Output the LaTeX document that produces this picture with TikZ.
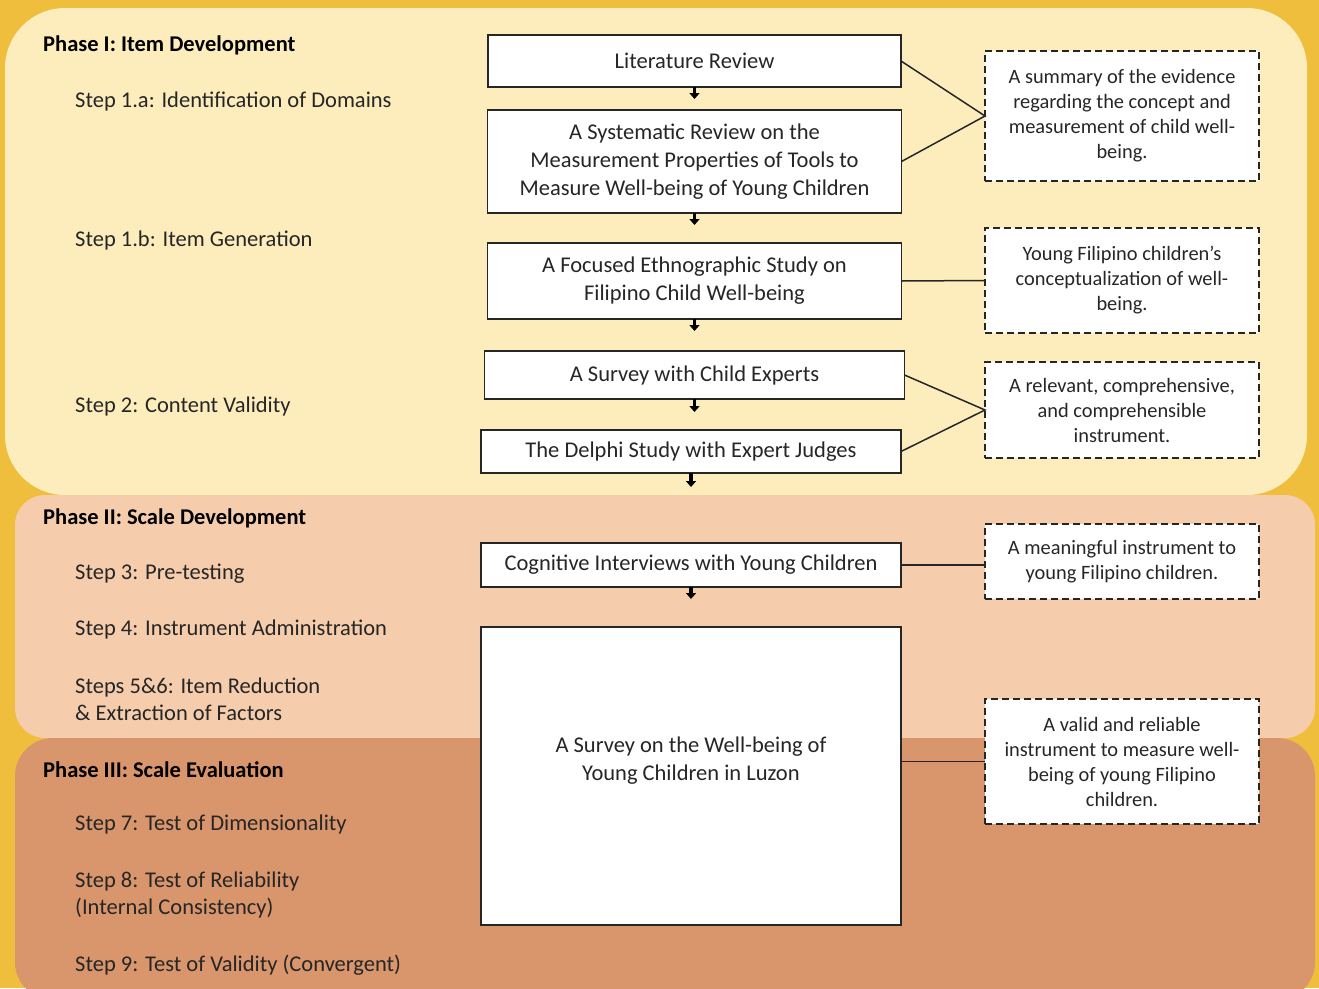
\documentclass[tikz,border=0pt]{standalone}
\usepackage{fontspec}
\setmainfont{Carlito}
\usepackage{xcolor}
\usepackage{tikz}
\usetikzlibrary{positioning,arrows.meta}

\definecolor{bggold}{HTML}{EFBE3C}
\definecolor{phaseone}{HTML}{FDEDBD}
\definecolor{phasetwo}{HTML}{F6CDAC}
\definecolor{phasethree}{HTML}{D9956C}
\definecolor{linegray}{HTML}{262626}

\begin{document}
\begin{tikzpicture}[
		x=1pt, y=-1pt,
		block/.style={rectangle, draw=linegray, fill=white, line width=1.5pt, outer sep=0pt, inner sep=4pt, align=center, text=linegray, font=\fontsize{22.5}{28}\selectfont},
		outcome/.style={rectangle, draw=linegray, fill=white, dash pattern=on 7pt off 4pt, line width=1.6pt, outer sep=0pt, minimum width=274pt, align=center, text=linegray, font=\fontsize{20.4}{25}\selectfont},
		phaselabel/.style={anchor=west, inner sep=0pt, text=black, font=\bfseries\fontsize{22.5}{27}\selectfont},
		steplabel/.style={anchor=west, inner sep=0pt, align=left, text=linegray, font=\fontsize{22.5}{27}\selectfont},
		outlink/.style={draw=linegray, line width=1.5pt},
		flowarrow/.style={-{Triangle[width=10pt,length=6pt]}, line width=3.2pt, black},
		]
		\useasboundingbox (0,0) rectangle (1319,988);
		\clip (0,0) rectangle (1319,988);

		%Phase Panels
		\fill[bggold] (0,0) rectangle (1319,988);
		\fill[phaseone, rounded corners=60pt] (5,8) rectangle (1307,495);
		\fill[phasetwo, rounded corners=30pt] (15,495) rectangle (1315,738);
		\fill[phasethree, rounded corners=38pt] (15,738) rectangle (1315,1000);

		%Main Nodes
		\node[block, minimum width=413pt, minimum height=52pt]	(litrev)	at (694.5,61)	{Literature Review};
		\node[block, minimum width=414pt, minimum height=103pt]	(sysrev)	[below=23pt of litrev]	{A Systematic Review on the\\Measurement Properties of Tools to\\Measure Well-being of Young Children};
		\node[block, minimum width=414pt, minimum height=76pt]	(ethno)		[below=30pt of sysrev]	{A Focused Ethnographic Study on\\Filipino Child Well-being};
		\node[block, minimum width=420pt, minimum height=48pt]	(experts)	[below=32pt of ethno]	{A Survey with Child Experts};
		\node[block, minimum width=420pt, minimum height=43pt]	(delphi)	[below=31pt of experts, xshift=-3.5pt]	{The Delphi Study with Expert Judges};
		\node[block, minimum width=420pt, minimum height=44pt]	(cognit)	[below=70pt of delphi]	{Cognitive Interviews with Young Children};
		\node[block, minimum width=420pt, minimum height=298pt]	(luzon)		[below=40pt of cognit]	{};
		\node[align=center, text=linegray, font=\fontsize{22.5}{28}\selectfont]	(luzontext)	at ([yshift=15pt]luzon.center)	{A Survey on the Well-being of\\Young Children in Luzon};

		%Arrows
		\foreach \from/\to/\gap in {litrev/sysrev/11, sysrev/ethno/18, ethno/experts/20, experts/delphi/18, delphi/cognit/56, cognit/luzon/28}
			\draw[flowarrow, shorten >=\gap pt]	(\from.south) -- (\from.south |- \to.north);

		%Outcomes
		\node[outcome, minimum height=130pt]	(evidence)		at (1122,116)	{A summary of the evidence\\regarding the concept and\\measurement of child well-\\being.};
		\node[outcome, minimum height=105pt]	(concept)		at (1122,280.5)	{Young Filipino children’s\\conceptualization of well-\\being.};
		\node[outcome, minimum height=96pt]		(relevant)		at (1122,410)	{A relevant, comprehensive,\\and comprehensible\\instrument.};
		\node[outcome, minimum height=75pt]		(meaningful)	at (1122,561.5)	{A meaningful instrument to\\young Filipino children.};
		\node[outcome, minimum height=125pt]	(validrel)		at (1122,761.5)	{A valid and reliable\\instrument to measure well-\\being of young Filipino\\children.};

		\draw[outlink]	(litrev.east) -- (evidence.west) -- (sysrev.east);
		\draw[outlink]	(ethno.east) -- (concept.west);
		\draw[outlink]	(experts.east) -- (relevant.west) -- (delphi.east);
		\draw[outlink]	(cognit.east) -- (cognit.east -| meaningful.west);
		\draw[outlink]	(validrel.west) -- (validrel.west -| luzon.east);

		%Phases and Steps
		\node[phaselabel]	(phase1)	at (43,45)		{Phase I: Item Development};
		\node[steplabel]	(step1a)	at (75,101)		{Step 1.a: Identification of Domains};
		\node[steplabel]	(step1b)	at (75,240)		{Step 1.b: Item Generation};
		\node[steplabel]	(step2)		at (75,406)		{Step 2: Content Validity};
		\node[phaselabel]	(phase2)	at (43,518)		{Phase II: Scale Development};
		\node[steplabel]	(step3)		at (75,574)		{Step 3: Pre-testing};
		\node[steplabel]	(step4)		at (75,629)		{Step 4: Instrument Administration};
		\node[steplabel]	(step56)	at (75,699.5)	{Steps 5\&6: Item Reduction\\\& Extraction of Factors};
		\node[phaselabel]	(phase3)	at (43,770)		{Phase III: Scale Evaluation};
		\node[steplabel]	(step7)		at (75,824)		{Step 7: Test of Dimensionality};
		\node[steplabel]	(step8)		at (75,894.5)	{Step 8: Test of Reliability\\(Internal Consistency)};
		\node[steplabel]	(step9)		at (75,965)		{Step 9: Test of Validity (Convergent)};

	\end{tikzpicture}
\end{document}
